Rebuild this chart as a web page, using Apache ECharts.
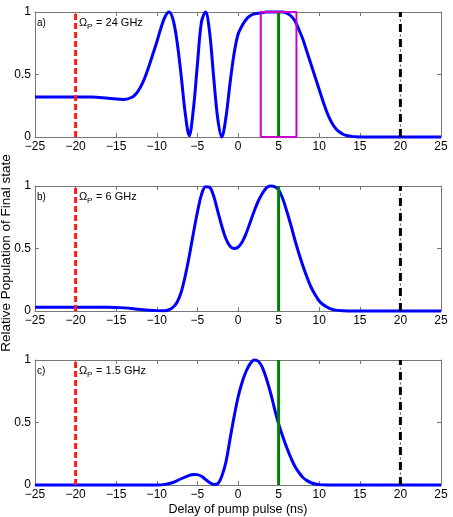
<!DOCTYPE html>
<html><head><meta charset="utf-8">
<script src="https://cdn.jsdelivr.net/npm/echarts@6/dist/echarts.min.js"></script>
<style>html,body{margin:0;padding:0;background:#fff}#c{width:453px;height:517px}</style>
</head><body><div id="c"></div>
<script>
// ---- data ----
const panelLabels = ['a)', 'b)', 'c)'];
const omegaValues = ['24 GHz', '6 GHz', '1.5 GHz'];

const xA = [-25,-22,-20,-18,-16,-14,-13,-12.5,-12,-11.5,-11,-10.5,-10,-9.5,-9,-8.5,-8,-7.5,-7,-6.5,-6,-5.5,-5,-4.5,-4,-3.5,-3,-2.5,-2,-1.5,-1,-0.5,0,0.5,1,1.5,2,2.5,3,3.5,4,4.5,5,5.5,6,6.5,7,7.5,8,8.5,9,9.5,10,10.5,11,11.5,12,12.5,13,13.5,14,14.5,15,16,18,20,22,25];
const yA = [0.32,0.32,0.32,0.32,0.31,0.30,0.32,0.35,0.40,0.47,0.56,0.66,0.76,0.87,0.96,1.0,0.94,0.76,0.49,0.19,0.01,0.22,0.58,0.92,1.0,0.84,0.48,0.15,0.0,0.15,0.42,0.66,0.82,0.89,0.94,0.97,0.985,0.99,0.995,1.0,1.0,1.0,1.0,1.0,0.99,0.97,0.93,0.86,0.78,0.68,0.58,0.48,0.38,0.28,0.19,0.12,0.07,0.04,0.02,0.01,0.005,0.002,0,0,0,0,0,0];

const xB = [-25,-22,-20,-18,-16,-14,-12,-10,-9,-8.5,-8,-7.5,-7,-6.5,-6,-5.5,-5,-4.5,-4,-3.5,-3,-2.5,-2,-1.5,-1,-0.5,0,0.5,1,1.5,2,2.5,3,3.5,4,4.5,5,5.5,6,6.5,7,7.5,8,8.5,9,9.5,10,10.5,11,11.5,12,13,14,16,18,20,22,25];
const yB = [0.03,0.03,0.03,0.03,0.03,0.025,0.012,0.003,0.002,0.01,0.03,0.07,0.15,0.28,0.44,0.62,0.79,0.93,0.995,0.99,0.92,0.80,0.68,0.58,0.52,0.50,0.51,0.55,0.62,0.71,0.80,0.88,0.94,0.985,1.0,0.995,0.97,0.90,0.80,0.69,0.57,0.46,0.36,0.27,0.19,0.13,0.08,0.05,0.03,0.015,0.007,0.002,0,0,0,0,0,0];

const xC = [-25,-22,-20,-18,-16,-14,-12,-10,-9,-8,-7,-6,-5.5,-5,-4.5,-4,-3.5,-3,-2.5,-2,-1.5,-1,-0.5,0,0.5,1,1.5,2,2.5,3,3.5,4,4.5,5,5.5,6,6.5,7,7.5,8,8.5,9,9.5,10,11,12,14,16,18,20,22,25];
const yC = [0,0,0,0,0,0,0,0,0.005,0.02,0.05,0.077,0.085,0.083,0.07,0.045,0.02,0.004,0.01,0.07,0.18,0.36,0.54,0.70,0.82,0.91,0.97,1.0,0.99,0.94,0.85,0.74,0.61,0.49,0.39,0.30,0.22,0.15,0.10,0.06,0.035,0.018,0.008,0.003,0,0,0,0,0,0,0,0];

const redLineX = -20;
const greenLineX = 5;
const blackLineX = 20;
const boxRange = [2.8, 7.2];

const xTickLabels = ['−25','−20','−15','−10','−5','0','5','10','15','20','25'];
const yTickLabels = ['0','0.5','1'];
const xAxisTitle = 'Delay of pump pulse (ns)';
const yAxisTitle = 'Relative Population of Final state';
// -----------------------------------

const curves = [[xA, yA], [xB, yB], [xC, yC]];
const gridTops = [12, 186, 360];
const gridH = 125;
const FONT = 'Liberation Sans, Arial, sans-serif';
const frameColor = '#777';

const grids = gridTops.map(t => ({left: 35, right: 12, top: t, height: gridH, containLabel: false, outerBoundsMode: 'none'}));
const xAxes = [], yAxes = [], series = [], graphics = [];

function xFmt(v) { const i = Math.round((v + 25) / 5); return xTickLabels[i] ?? ''; }
function yFmt(v) { const i = Math.round(v / 0.5); return yTickLabels[i] ?? ''; }

const lineCommon = {show: true, onZero: false, lineStyle: {color: frameColor, width: 1}};
const tickCommon = {show: true, inside: true, length: 4, lineStyle: {color: frameColor}};

for (let g = 0; g < 3; g++) {
  xAxes.push({gridIndex: g, type: 'value', min: -25, max: 25, interval: 5, position: 'bottom',
    splitLine: {show: false}, axisLine: lineCommon, axisTick: tickCommon,
    axisLabel: {show: true, formatter: xFmt, color: '#000', fontSize: 12, fontFamily: FONT, margin: 4}});
  yAxes.push({gridIndex: g, type: 'value', min: 0, max: 1, interval: 0.5, position: 'left',
    splitLine: {show: false}, axisLine: lineCommon, axisTick: tickCommon,
    axisLabel: {show: true, formatter: yFmt, color: '#000', fontSize: 12, fontFamily: FONT, margin: 4}});
}
for (let g = 0; g < 3; g++) {
  xAxes.push({gridIndex: g, type: 'value', min: -25, max: 25, interval: 5, position: 'top',
    splitLine: {show: false}, axisLabel: {show: false}, axisLine: lineCommon, axisTick: tickCommon});
  yAxes.push({gridIndex: g, type: 'value', min: 0, max: 1, interval: 0.5, position: 'right',
    splitLine: {show: false}, axisLabel: {show: false}, axisLine: lineCommon, axisTick: tickCommon});
}

function vline(x, g, color, type, width, z, offset) {
  series.push({type: 'line', xAxisIndex: g, yAxisIndex: g, data: [[x, 0], [x, 1]],
    symbol: 'none', silent: true, clip: false, z: z,
    lineStyle: {color: color, width: width, type: type, dashOffset: offset || 0}});
}

for (let g = 0; g < 3; g++) {
  const [xs, ys] = curves[g];
  series.push({type: 'line', xAxisIndex: g, yAxisIndex: g,
    data: xs.map((x, i) => [x, ys[i]]), symbol: 'none', smooth: 0.35,
    clip: false, z: 2, lineStyle: {color: '#0000ff', width: 3}});
  vline(redLineX, g, '#ff1a1a', [6, 3], 3, 3);
  vline(greenLineX, g, '#008000', 'solid', 3, 3);
  vline(blackLineX, g, '#000', [8, 7], 3, 3);
  vline(blackLineX, g, '#444', [2, 13], 1, 3, 4.5);
  if (g === 0) {
    series.push({type: 'line', xAxisIndex: 0, yAxisIndex: 0, symbol: 'none', clip: false, z: 4,
      data: [[boxRange[0], 0], [boxRange[0], 1], [boxRange[1], 1], [boxRange[1], 0], [boxRange[0], 0]],
      lineStyle: {color: '#cc00cc', width: 2}});
  }
  graphics.push({type: 'text', left: 37, top: gridTops[g] + 6,
    style: {text: panelLabels[g], fill: '#000', font: '10px ' + FONT}});
  graphics.push({type: 'text', left: 79, top: gridTops[g] + 5,
    style: {text: 'Ω', fill: '#000', font: '11px ' + FONT}});
  graphics.push({type: 'text', left: 87, top: gridTops[g] + 11,
    style: {text: 'P', fill: '#000', font: '8px ' + FONT}});
  graphics.push({type: 'text', left: 93, top: gridTops[g] + 5,
    style: {text: ' = ' + omegaValues[g], fill: '#000', font: '11px ' + FONT}});
}
graphics.push({type: 'text', x: 6, y: 253, rotation: Math.PI / 2,
  style: {text: yAxisTitle, fill: '#000', font: '13.5px ' + FONT, align: 'center', verticalAlign: 'middle'}});
graphics.push({type: 'text', x: 238, y: 510,
  style: {text: xAxisTitle, fill: '#000', font: '12.5px ' + FONT, align: 'center', verticalAlign: 'middle'}});

const chart = echarts.init(document.getElementById('c'), null, {renderer: 'canvas'});
chart.setOption({animation: false, backgroundColor: '#fff', grid: grids, xAxis: xAxes, yAxis: yAxes,
  series: series, graphic: graphics});
</script></body></html>
